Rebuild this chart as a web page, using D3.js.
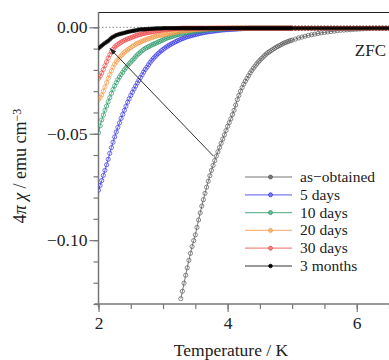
<!DOCTYPE html>
<html><head><meta charset="utf-8">
<script src="https://cdn.jsdelivr.net/npm/d3@7"></script>
<style>html,body{margin:0;padding:0;background:#fff;}svg{display:block;}</style>
</head><body>
<svg id="c" width="389" height="360"></svg>
<script>
const temps = [
2.000,2.025,2.050,2.075,2.100,2.125,2.150,2.175,2.200,2.225,
2.250,2.275,2.300,2.325,2.350,2.375,2.400,2.425,2.450,2.475,
2.500,2.525,2.550,2.575,2.600,2.625,2.650,2.675,2.700,2.725,
2.750,2.775,2.800,2.825,2.850,2.875,2.900,2.925,2.950,2.975,
3.000,3.025,3.050,3.075,3.100,3.125,3.150,3.175,3.200,3.225,
3.250,3.275,3.300,3.325,3.350,3.375,3.400,3.425,3.450,3.475,
3.500,3.525,3.550,3.575,3.600,3.625,3.650,3.675,3.700,3.725,
3.750,3.775,3.800,3.825,3.850,3.875,3.900,3.925,3.950,3.975,
4.000,4.025,4.050,4.075,4.100,4.125,4.150,4.175,4.200,4.225,
4.250,4.275,4.300,4.325,4.350,4.375,4.400,4.425,4.450,4.475,
4.500,4.525,4.550,4.575,4.600,4.625,4.650,4.675,4.700,4.725,
4.750,4.775,4.800,4.825,4.850,4.875,4.900,4.925,4.950,4.975,
5.000,5.050,5.100,5.150,5.200,5.250,5.300,5.350,5.400,5.450,
5.500,5.550,5.600,5.650,5.700,5.750,5.800,5.850,5.900,5.950,
6.000,6.050,6.100,6.150,6.200,6.250,6.300,6.350,6.400,6.450,
6.500];

const asObtained = [
null,null,null,null,null,null,null,null,null,null,
null,null,null,null,null,null,null,null,null,null,
null,null,null,null,null,null,null,null,null,null,
null,null,null,null,null,null,null,null,null,null,
null,null,null,null,null,null,null,null,null,null,
null,-0.1275,-0.1240,-0.1202,-0.1165,-0.1130,-0.1095,-0.1062,-0.1030,-0.1002,
-0.0975,-0.0940,-0.0905,-0.0872,-0.0840,-0.0810,-0.0780,-0.0751,-0.0723,-0.0697,
-0.0672,-0.0649,-0.0626,-0.0605,-0.0585,-0.0565,-0.0545,-0.0525,-0.0505,-0.0485,
-0.0465,-0.0448,-0.0430,-0.0410,-0.0390,-0.0365,-0.0340,-0.0320,-0.0300,-0.0283,
-0.0267,-0.0253,-0.0240,-0.0227,-0.0214,-0.0203,-0.0192,-0.0182,-0.0172,-0.0163,
-0.0155,-0.0147,-0.0140,-0.0132,-0.0125,-0.0119,-0.0114,-0.0109,-0.0104,-0.0099,
-0.0094,-0.0090,-0.0086,-0.0082,-0.0078,-0.0074,-0.0071,-0.0068,-0.0065,-0.0062,
-0.0060,-0.0055,-0.0050,-0.0046,-0.0042,-0.0038,-0.0035,-0.0032,-0.0029,-0.0026,
-0.0024,-0.0022,-0.0020,-0.0018,-0.0016,-0.0014,-0.0013,-0.0012,-0.0011,-0.0010,
-0.0009,-0.0008,-0.0007,-0.0006,-0.0005,-0.0004,-0.0004,-0.0004,-0.0004,-0.0004,
-0.0004];

const days5 = [
-0.0765,-0.0743,-0.0720,-0.0696,-0.0672,-0.0646,-0.0620,-0.0592,-0.0565,-0.0540,
-0.0515,-0.0492,-0.0470,-0.0449,-0.0428,-0.0409,-0.0390,-0.0371,-0.0352,-0.0336,
-0.0320,-0.0305,-0.0290,-0.0276,-0.0262,-0.0249,-0.0236,-0.0223,-0.0210,-0.0198,
-0.0187,-0.0176,-0.0165,-0.0155,-0.0146,-0.0138,-0.0130,-0.0123,-0.0116,-0.0110,
-0.0104,-0.0098,-0.0093,-0.0088,-0.0083,-0.0079,-0.0075,-0.0071,-0.0067,-0.0063,
-0.0060,-0.0056,-0.0053,-0.0050,-0.0047,-0.0044,-0.0042,-0.0040,-0.0038,-0.0036,
-0.0034,-0.0032,-0.0030,-0.0028,-0.0027,-0.0025,-0.0024,-0.0022,-0.0021,-0.0020,
-0.0019,-0.0018,-0.0017,-0.0016,-0.0015,-0.0014,-0.0013,-0.0012,-0.0012,-0.0011,
-0.0011,-0.0010,-0.0010,-0.0009,-0.0009,-0.0008,-0.0008,-0.0007,-0.0007,-0.0006,
-0.0006,-0.0005,-0.0005,-0.0004,-0.0004,-0.0004,-0.0004,-0.0004,-0.0004,-0.0004,
-0.0004,-0.0004,-0.0004,-0.0004,-0.0004,-0.0004,-0.0004,-0.0004,-0.0004,-0.0004,
-0.0004,-0.0004,-0.0004,-0.0004,-0.0004,-0.0004,-0.0004,-0.0004,-0.0004,-0.0004,
-0.0004,-0.0004,-0.0004,-0.0004,-0.0004,-0.0004,-0.0004,-0.0004,-0.0004,-0.0004,
-0.0004,-0.0004,-0.0004,-0.0004,-0.0004,-0.0004,-0.0004,-0.0004,-0.0004,-0.0004,
-0.0004,-0.0004,-0.0004,-0.0004,-0.0004,-0.0004,-0.0004,-0.0004,-0.0004,-0.0004,
-0.0004];

const days10 = [
-0.0495,-0.0463,-0.0435,-0.0412,-0.0390,-0.0370,-0.0350,-0.0330,-0.0310,-0.0292,
-0.0275,-0.0260,-0.0246,-0.0234,-0.0222,-0.0211,-0.0200,-0.0190,-0.0180,-0.0171,
-0.0163,-0.0155,-0.0147,-0.0138,-0.0130,-0.0123,-0.0116,-0.0110,-0.0104,-0.0099,
-0.0095,-0.0091,-0.0087,-0.0083,-0.0080,-0.0076,-0.0073,-0.0069,-0.0066,-0.0062,
-0.0059,-0.0055,-0.0052,-0.0049,-0.0047,-0.0044,-0.0042,-0.0039,-0.0037,-0.0035,
-0.0033,-0.0031,-0.0029,-0.0027,-0.0026,-0.0024,-0.0023,-0.0022,-0.0021,-0.0020,
-0.0019,-0.0018,-0.0017,-0.0016,-0.0015,-0.0014,-0.0013,-0.0012,-0.0012,-0.0011,
-0.0011,-0.0010,-0.0010,-0.0009,-0.0009,-0.0008,-0.0008,-0.0007,-0.0007,-0.0006,
-0.0006,-0.0005,-0.0005,-0.0004,-0.0004,-0.0004,-0.0004,-0.0004,-0.0004,-0.0004,
-0.0004,-0.0004,-0.0004,-0.0004,-0.0004,-0.0004,-0.0004,-0.0004,-0.0004,-0.0004,
-0.0004,-0.0004,-0.0004,-0.0004,-0.0004,-0.0004,-0.0004,-0.0004,-0.0004,-0.0004,
-0.0004,-0.0004,-0.0004,-0.0004,-0.0004,-0.0004,-0.0004,-0.0004,-0.0004,-0.0004,
-0.0004,-0.0004,-0.0004,-0.0004,-0.0004,-0.0004,-0.0004,-0.0004,-0.0004,-0.0004,
-0.0004,-0.0004,-0.0004,-0.0004,-0.0004,-0.0004,-0.0004,-0.0004,-0.0004,-0.0004,
-0.0004,-0.0004,-0.0004,-0.0004,-0.0004,-0.0004,-0.0004,-0.0004,-0.0004,-0.0004,
-0.0004];

const days20 = [
-0.0340,-0.0330,-0.0318,-0.0300,-0.0280,-0.0260,-0.0240,-0.0222,-0.0205,-0.0188,
-0.0173,-0.0162,-0.0152,-0.0143,-0.0134,-0.0126,-0.0118,-0.0112,-0.0106,-0.0100,
-0.0095,-0.0090,-0.0085,-0.0080,-0.0076,-0.0072,-0.0069,-0.0065,-0.0062,-0.0059,
-0.0056,-0.0053,-0.0051,-0.0048,-0.0046,-0.0043,-0.0041,-0.0039,-0.0038,-0.0036,
-0.0035,-0.0033,-0.0032,-0.0030,-0.0029,-0.0027,-0.0026,-0.0024,-0.0023,-0.0021,
-0.0020,-0.0019,-0.0018,-0.0017,-0.0016,-0.0015,-0.0014,-0.0013,-0.0012,-0.0012,
-0.0011,-0.0010,-0.0010,-0.0009,-0.0009,-0.0008,-0.0008,-0.0007,-0.0007,-0.0006,
-0.0006,-0.0005,-0.0005,-0.0004,-0.0004,-0.0004,-0.0004,-0.0004,-0.0004,-0.0004,
-0.0004,-0.0004,-0.0004,-0.0004,-0.0004,-0.0004,-0.0004,-0.0004,-0.0004,-0.0004,
-0.0004,-0.0004,-0.0004,-0.0004,-0.0004,-0.0004,-0.0004,-0.0004,-0.0004,-0.0004,
-0.0004,-0.0004,-0.0004,-0.0004,-0.0004,-0.0004,-0.0004,-0.0004,-0.0004,-0.0004,
-0.0004,-0.0004,-0.0004,-0.0004,-0.0004,-0.0004,-0.0004,-0.0004,-0.0004,-0.0004,
-0.0004,-0.0004,-0.0004,-0.0004,-0.0004,-0.0004,-0.0004,-0.0004,-0.0004,-0.0004,
-0.0004,-0.0004,-0.0004,-0.0004,-0.0004,-0.0004,-0.0004,-0.0004,-0.0004,-0.0004,
-0.0004,-0.0004,-0.0004,-0.0004,-0.0004,-0.0004,-0.0004,-0.0004,-0.0004,-0.0004,
-0.0004];

const days30 = [
-0.0240,-0.0229,-0.0215,-0.0198,-0.0180,-0.0162,-0.0145,-0.0129,-0.0115,-0.0103,
-0.0093,-0.0086,-0.0080,-0.0075,-0.0070,-0.0066,-0.0062,-0.0058,-0.0055,-0.0052,
-0.0049,-0.0046,-0.0043,-0.0040,-0.0037,-0.0035,-0.0033,-0.0031,-0.0029,-0.0027,
-0.0026,-0.0024,-0.0023,-0.0021,-0.0020,-0.0018,-0.0017,-0.0016,-0.0015,-0.0013,
-0.0012,-0.0011,-0.0010,-0.0009,-0.0008,-0.0008,-0.0007,-0.0007,-0.0006,-0.0006,
-0.0005,-0.0005,-0.0004,-0.0004,-0.0004,-0.0004,-0.0004,-0.0004,-0.0004,-0.0004,
-0.0004,-0.0004,-0.0004,-0.0004,-0.0004,-0.0004,-0.0004,-0.0004,-0.0004,-0.0004,
-0.0004,-0.0004,-0.0004,-0.0004,-0.0004,-0.0004,-0.0004,-0.0004,-0.0004,-0.0004,
-0.0004,-0.0004,-0.0004,-0.0004,-0.0004,-0.0004,-0.0004,-0.0004,-0.0004,-0.0004,
-0.0004,-0.0004,-0.0004,-0.0004,-0.0004,-0.0004,-0.0004,-0.0004,-0.0004,-0.0004,
-0.0004,-0.0004,-0.0004,-0.0004,-0.0004,-0.0004,-0.0004,-0.0004,-0.0004,-0.0004,
-0.0004,-0.0004,-0.0004,-0.0004,-0.0004,-0.0004,-0.0004,-0.0004,-0.0004,-0.0004,
-0.0004,-0.0004,-0.0004,-0.0004,-0.0004,-0.0004,-0.0004,-0.0004,-0.0004,-0.0004,
-0.0004,-0.0004,-0.0004,-0.0004,-0.0004,-0.0004,-0.0004,-0.0004,-0.0004,-0.0004,
-0.0004,-0.0004,-0.0004,-0.0004,-0.0004,-0.0004,-0.0004,-0.0004,-0.0004,-0.0004,
-0.0004];

const months3 = [
-0.0099,-0.0092,-0.0086,-0.0080,-0.0074,-0.0069,-0.0064,-0.0057,-0.0050,-0.0045,
-0.0041,-0.0037,-0.0034,-0.0032,-0.0030,-0.0028,-0.0026,-0.0024,-0.0022,-0.0020,
-0.0019,-0.0017,-0.0016,-0.0014,-0.0013,-0.0011,-0.0010,-0.0010,-0.0009,-0.0009,
-0.0008,-0.0008,-0.0007,-0.0007,-0.0006,-0.0006,-0.0005,-0.0005,-0.0005,-0.0005,
-0.0004,-0.0004,-0.0004,-0.0004,-0.0004,-0.0004,-0.0004,-0.0004,-0.0004,-0.0004,
-0.0004,-0.0004,-0.0004,-0.0004,-0.0004,-0.0004,-0.0004,-0.0004,-0.0004,-0.0004,
-0.0004,-0.0004,-0.0004,-0.0004,-0.0004,-0.0004,-0.0004,-0.0004,-0.0004,-0.0004,
-0.0004,-0.0004,-0.0004,-0.0004,-0.0004,-0.0004,-0.0004,-0.0004,-0.0004,-0.0004,
-0.0004,-0.0004,-0.0004,-0.0004,-0.0004,-0.0004,-0.0004,-0.0004,-0.0004,-0.0004,
-0.0004,-0.0004,-0.0004,-0.0004,-0.0004,-0.0004,-0.0004,-0.0004,-0.0004,-0.0004,
-0.0004,-0.0004,-0.0004,-0.0004,-0.0004,-0.0004,-0.0004,-0.0004,-0.0004,-0.0004,
-0.0004,-0.0004,-0.0004,-0.0004,-0.0004,-0.0004,-0.0004,-0.0004,-0.0004,-0.0004,
-0.0004,-0.0004,-0.0004,-0.0004,-0.0004,-0.0004,-0.0004,-0.0004,-0.0004,-0.0004,
-0.0004,-0.0004,-0.0004,-0.0004,-0.0004,-0.0004,-0.0004,-0.0004,-0.0004,-0.0004,
-0.0004,-0.0004,-0.0004,-0.0004,-0.0004,-0.0004,-0.0004,-0.0004,-0.0004,-0.0004,
-0.0004];

const seriesNames = ["as\u2212obtained","5 days","10 days","20 days","30 days","3 months"];
const seriesValues = [asObtained, days5, days10, days20, days30, months3];
const seriesColors = ["#5a5a5a","#3a3ae6","#2f9a6c","#f59a48","#ee4848","#000000"];
const legendLineColors = ["#777777","#7a7af0","#6cbb98","#f8b880","#f08a8a","#333333"];
const xTicksMajor = [2,4,6];
const yTicksMajor = [0,-0.05,-0.10];
const arrowFrom = [3.78,-0.0605];
const arrowTo = [2.18,-0.0100];

const svg = d3.select("#c");
const serif = "'Liberation Serif','Times New Roman',serif";
const L=98.5, R=389, T=12, B=304;
const x = d3.scaleLinear().domain([2,6.5]).range([L,R]);
const y = d3.scaleLinear().domain([-0.13,0.0072]).range([B,T]);

svg.append("defs").append("clipPath").attr("id","clip")
  .append("rect").attr("x",L).attr("y",T).attr("width",R-L).attr("height",B-T);
svg.select("defs").append("marker").attr("id","ah").attr("viewBox","0 0 10 10")
  .attr("refX",9).attr("refY",5).attr("markerWidth",7).attr("markerHeight",7).attr("orient","auto")
  .append("path").attr("d","M0,1.5L10,5L0,8.5Z").attr("fill","#222");

// zero dotted line
svg.append("line").attr("x1",L).attr("x2",R).attr("y1",y(0)).attr("y2",y(0))
  .attr("stroke","#888").attr("stroke-width",1).attr("stroke-dasharray","1.5,2");
// top frame
svg.append("line").attr("x1",L).attr("x2",R).attr("y1",T+0.5).attr("y2",T+0.5)
  .attr("stroke","#222").attr("stroke-width",1);

// axes
const xMinor = d3.range(2,6.51,0.5);
const gx = svg.append("g").attr("transform",`translate(0,${B})`);
gx.call(d3.axisBottom(x).tickValues(xMinor).tickSize(5).tickFormat(""))
  .call(g=>g.select(".domain").remove());
gx.selectAll(".tick line").attr("stroke","#777").attr("stroke-width",1.2);
const gx2 = svg.append("g").attr("transform",`translate(0,${B})`);
gx2.call(d3.axisBottom(x).tickValues(xTicksMajor).tickSize(8).tickPadding(5).tickFormat(d3.format("d")));
gx2.select(".domain").remove();
gx2.selectAll(".tick line").attr("stroke","#777").attr("stroke-width",1.2);
gx2.selectAll("text").attr("font-family",serif).attr("font-size",17.5).attr("fill","#222");
svg.append("line").attr("x1",L-4).attr("x2",R).attr("y1",B).attr("y2",B).attr("stroke","#777").attr("stroke-width",1.5);

const yMinor = d3.range(0,-0.1301,-0.01);
const gy = svg.append("g").attr("transform",`translate(${L},0)`);
gy.call(d3.axisLeft(y).tickValues(yMinor).tickSize(5).tickFormat(""))
  .call(g=>g.select(".domain").remove());
gy.selectAll(".tick line").attr("stroke","#777").attr("stroke-width",1.2);
const gy2 = svg.append("g").attr("transform",`translate(${L},0)`);
gy2.call(d3.axisLeft(y).tickValues(yTicksMajor).tickSize(9).tickPadding(2)
  .tickFormat(d=>d3.format(".2f")(d).replace("-","\u2212")));
gy2.select(".domain").remove();
gy2.selectAll(".tick line").attr("stroke","#777").attr("stroke-width",1.2);
gy2.selectAll("text").attr("font-family",serif).attr("font-size",17.5).attr("fill","#222");
svg.append("line").attr("x1",L).attr("x2",L).attr("y1",T).attr("y2",B+3).attr("stroke","#777").attr("stroke-width",1.5);

// series
const plot = svg.append("g").attr("clip-path","url(#clip)");
const line = d3.line().defined(d=>d.v!=null).x(d=>x(d.t)).y(d=>y(d.v));
seriesValues.forEach((vals,i)=>{
  const pts = temps.map((t,j)=>({t:t,v:vals[j]}));
  const g = plot.append("g");
  g.append("path").datum(pts).attr("d",line).attr("fill","none")
    .attr("stroke",seriesColors[i]).attr("stroke-width",1).attr("opacity",0.8);
  const isBlack = i===5;
  g.selectAll("circle").data(pts.filter(d=>d.v!=null)).join("circle")
    .attr("cx",d=>x(d.t)).attr("cy",d=>y(d.v))
    .attr("r",isBlack?1.9:2.1)
    .attr("fill",isBlack?"#000":"none")
    .attr("stroke",seriesColors[i]).attr("stroke-width",isBlack?0.5:0.9).attr("opacity",0.8);
});

// arrow
svg.append("line").attr("x1",x(arrowFrom[0])).attr("y1",y(arrowFrom[1]))
  .attr("x2",x(arrowTo[0])).attr("y2",y(arrowTo[1]))
  .attr("stroke","#333").attr("stroke-width",1).attr("marker-end","url(#ah)");

// ZFC
svg.append("text").attr("x",386).attr("y",56).attr("text-anchor","end")
  .attr("font-family",serif).attr("font-size",17).attr("fill","#222").text("ZFC");

// legend
const lg = svg.append("g");
seriesNames.forEach((n,i)=>{
  const yy = 177 + i*17.8;
  lg.append("line").attr("x1",245).attr("x2",292).attr("y1",yy).attr("y2",yy)
    .attr("stroke",legendLineColors[i]).attr("stroke-width",1.2);
  lg.append("circle").attr("cx",270.5).attr("cy",yy).attr("r",i===5?1.8:2)
    .attr("fill",i===5?"#000":legendLineColors[i]).attr("stroke",seriesColors[i]).attr("stroke-width",0.8);
  lg.append("text").attr("x",300).attr("y",yy).attr("dy","0.32em")
    .attr("font-family",serif).attr("font-size",15.5).attr("fill","#222").text(n);
});

// axis titles
svg.append("text").attr("x",231).attr("y",356).attr("text-anchor","middle")
  .attr("font-family",serif).attr("font-size",17.5).attr("fill","#222").text("Temperature / K");
const yl = svg.append("text").attr("transform","translate(26,166) rotate(-90)").attr("text-anchor","middle")
  .attr("font-family",serif).attr("font-size",18).attr("fill","#222");
yl.append("tspan").text("4");
yl.append("tspan").attr("font-style","italic").text("\u03c0 \u03c7");
yl.append("tspan").text(" / emu cm");
yl.append("tspan").attr("dy","-0.45em").attr("font-size",12).text("\u22123");
</script>
</body></html>
